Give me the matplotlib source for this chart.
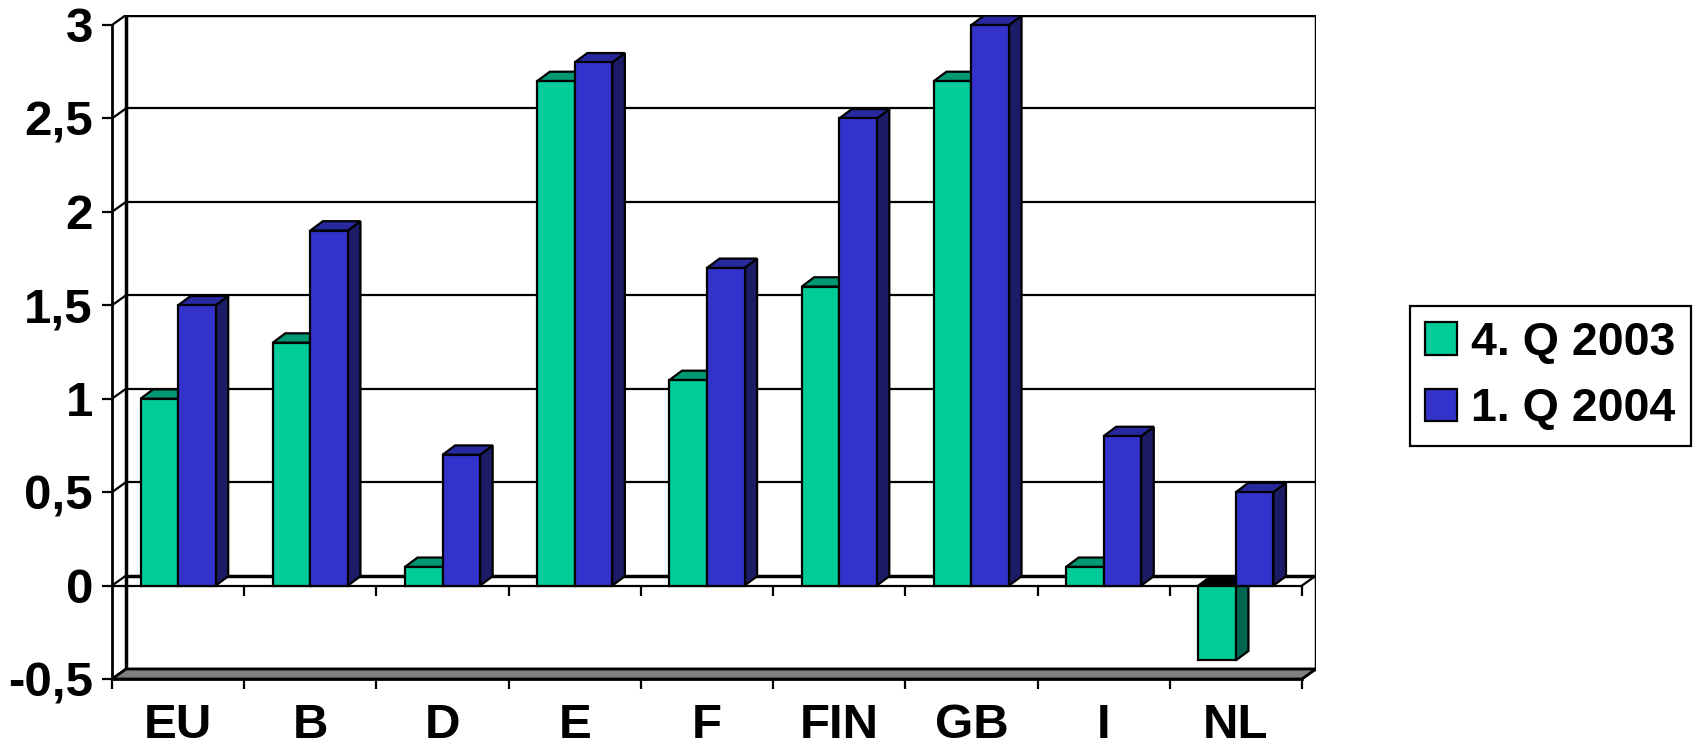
import matplotlib
matplotlib.use('Agg')
import matplotlib.pyplot as plt
from matplotlib.patches import Polygon, Rectangle

categories = ['EU', 'B', 'D', 'E', 'F', 'FIN', 'GB', 'I', 'NL']
q4_2003 = [1.0, 1.3, 0.1, 2.7, 1.1, 1.6, 2.7, 0.1, -0.4]
q1_2004 = [1.5, 1.9, 0.7, 2.8, 1.7, 2.5, 3.0, 0.8, 0.5]
series_labels = ['4. Q 2003', '1. Q 2004']
yticks = [-0.5, 0, 0.5, 1, 1.5, 2, 2.5, 3]
ytick_labels = ['-0,5', '0', '0,5', '1', '1,5', '2', '2,5', '3']

# front, top, side colours of each series
GREEN = ('#00cc99', '#009973', '#006650')
BLUE = ('#3333cc', '#28289f', '#1c1c66')

DX, DY = 0.106, 0.0535   # wall depth in data units
BDX, BDY = 0.095, 0.05   # bar depth
BW = 0.284               # bar width
LW = 1.6

plt.rcParams['font.family'] = ['Liberation Sans', 'DejaVu Sans']
plt.rcParams['font.weight'] = 'bold'


def draw_bar(ax, x0, v, cols):
    top = max(v, 0)
    side = [(x0 + BW, 0), (x0 + BW + BDX, BDY), (x0 + BW + BDX, v + BDY), (x0 + BW, v)]
    ax.add_patch(Polygon(side, closed=True, fc=cols[2], ec='black', lw=LW, zorder=5))
    lid = [(x0, top), (x0 + BDX, top + BDY), (x0 + BW + BDX, top + BDY), (x0 + BW, top)]
    ax.add_patch(Polygon(lid, closed=True, fc=cols[1] if v >= 0 else 'black',
                         ec='black', lw=LW, zorder=5))
    ax.bar(x0, v, width=BW, align='edge', color=cols[0], edgecolor='black',
           linewidth=LW, zorder=5)


def draw_walls(ax, n):
    lo, hi = yticks[0], yticks[-1]
    # back wall gridlines + left wall diagonals
    for y in yticks:
        lw = 2.5 if y in (0, hi) else LW
        ax.plot([DX, n + DX], [y + DY, y + DY], color='black', lw=lw, zorder=1)
        ax.plot([0, DX], [y, y + DY], color='black', lw=LW, zorder=1)
    ax.plot([DX, DX], [lo + DY, hi + DY], color='black', lw=2.5, zorder=1)
    ax.plot([n + DX, n + DX], [lo + DY, hi + DY], color='black', lw=2.5, zorder=1)
    # floor
    floor = [(0, lo), (DX, lo + DY), (n + DX, lo + DY), (n, lo)]
    ax.add_patch(Polygon(floor, closed=True, fc='#808080', ec='black', lw=2, zorder=2))
    # zero plane
    ax.plot([0, n], [0, 0], color='black', lw=LW, zorder=3)
    ax.plot([n, n + DX], [0, DY], color='black', lw=LW, zorder=3)
    ax.vlines(range(n + 1), -DY, 0, color='black', lw=LW, zorder=3)


def main():
    n = len(categories)
    fig = plt.figure(figsize=(16.96, 7.51), dpi=100)
    ax = fig.add_axes([112 / 1696, 72 / 751, 1204 / 1696, 664 / 751])
    ax.set_xlim(0, n + DX)
    ax.set_ylim(yticks[0], yticks[-1] + DY)

    draw_walls(ax, n)
    off = (1 - 2 * BW) / 2
    for i in range(n):
        draw_bar(ax, i + off, q4_2003[i], GREEN)
        draw_bar(ax, i + off + BW, q1_2004[i], BLUE)

    for s in ('top', 'right'):
        ax.spines[s].set_visible(False)
    ax.spines['left'].set_bounds(yticks[0], yticks[-1])
    ax.spines['bottom'].set_bounds(0, n)
    for s in ('left', 'bottom'):
        ax.spines[s].set_linewidth(2)
        ax.spines[s].set_zorder(6)

    ax.set_yticks(yticks)
    ax.set_yticklabels(ytick_labels)
    ax.set_xticks(range(n + 1))
    ax.set_xticklabels([])
    ax.set_xticks([i + 0.5 for i in range(n)], minor=True)
    ax.set_xticklabels(categories, minor=True)
    ax.tick_params(axis='both', which='major', length=7.2, width=LW, labelsize=35.5, pad=6.5)
    ax.tick_params(axis='x', which='minor', length=0, labelsize=35.5, pad=17)
    ax.patch.set_visible(False)

    handles = [Rectangle((0, 0), 1, 1, fc=GREEN[0], ec='black', lw=LW),
               Rectangle((0, 0), 1, 1, fc=BLUE[0], ec='black', lw=LW)]
    leg = fig.legend(handles, series_labels, loc='upper left',
                     bbox_to_anchor=(1410 / 1696, 1 - 306 / 751),
                     prop={'size': 33.5, 'weight': 'bold'},
                     frameon=True, fancybox=False, edgecolor='black', framealpha=1,
                     borderpad=0.32, handlelength=0.7, handleheight=0.7,
                     handletextpad=0.3, labelspacing=0.48, borderaxespad=0)
    leg.get_frame().set_linewidth(LW)

    fig.savefig('out.png', dpi=100)


if __name__ == '__main__': main()
